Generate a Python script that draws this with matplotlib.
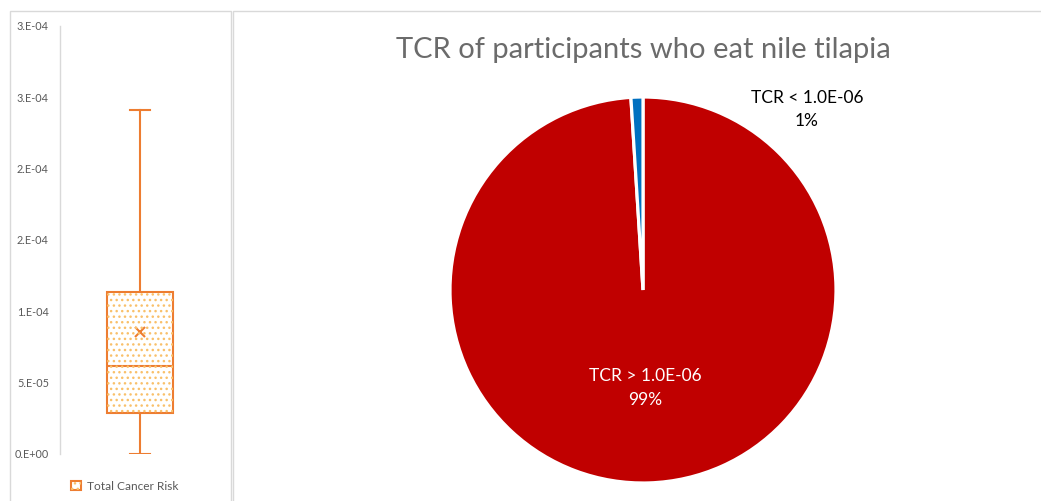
import matplotlib as mpl
mpl.use('Agg')
import matplotlib.pyplot as plt
from matplotlib.patches import Rectangle, PathPatch
from matplotlib.legend_handler import HandlerPatch

plt.rcParams['font.family'] = ['Lato', 'DejaVu Sans']

# total cancer risk distribution (box summary)
tcr_min = 0.0
tcr_q1 = 2.88e-5
tcr_median = 6.17e-5
tcr_q3 = 1.136e-4
tcr_max = 2.41e-4
tcr_mean = 8.56e-5

risk_ticks = [0.0, 5e-5, 1e-4, 1.5e-4, 2e-4, 2.5e-4, 3e-4]
risk_tick_labels = ['0.E+00', '5.E-05', '1.E-04', '2.E-04', '2.E-04', '3.E-04', '3.E-04']

# share of participants above / below the 1.0E-06 threshold
pie_labels = ['TCR > 1.0E-06', 'TCR < 1.0E-06']
pie_shares = [99, 1]
pie_colors = ['#C00000', '#0070C0']

ORANGE = '#ED7D31'
DOTS = '#F9C06A'
GREY = '#595959'
FRAME = '#D9D9D9'

W, H = 1041, 501
fig = plt.figure(figsize=(W / 100, H / 100), dpi=100)

def px(x0, y0, x1, y1):
    # pixel box (top-left origin) -> figure fraction rect
    return [x0 / W, 1 - y1 / H, (x1 - x0) / W, (y1 - y0) / H]

# panel outlines
fig.patches.append(Rectangle((10 / W, -0.1), 221 / W, 1.1 - 11 / H, transform=fig.transFigure,
                             fill=False, edgecolor=FRAME, lw=1.0))
fig.patches.append(Rectangle((233 / W, -0.1), 1.0, 1.1 - 11 / H, transform=fig.transFigure,
                             fill=False, edgecolor=FRAME, lw=1.0))

# ---- box plot ----
ax = fig.add_axes(px(60, 26, 220, 454))
stats = [dict(whislo=tcr_min, q1=tcr_q1, med=tcr_median, q3=tcr_q3, whishi=tcr_max,
              mean=tcr_mean, fliers=[], label='')]
bp = ax.bxp(stats, positions=[0.5], widths=0.41, patch_artist=True, showmeans=True,
            showfliers=False,
            boxprops=dict(facecolor='white', edgecolor=ORANGE, lw=1.5),
            medianprops=dict(color=ORANGE, lw=1.5),
            whiskerprops=dict(color=ORANGE, lw=1.5),
            capprops=dict(color=ORANGE, lw=1.5),
            capwidths=0.125,
            meanprops=dict(marker='x', markeredgecolor=ORANGE, markersize=7, mew=1.5))
box = bp['boxes'][0]
ax.add_patch(PathPatch(box.get_path(), facecolor='none', edgecolor=DOTS, hatch='...',
                       lw=0, zorder=box.get_zorder() + 0.1))
ax.set_xlim(0, 1)
ax.set_ylim(0, 3e-4)
ax.set_yticks(risk_ticks)
ax.set_yticklabels(risk_tick_labels, fontsize=7.8, color=GREY)
ax.set_xticks([])
ax.tick_params(axis='y', length=0, pad=8)
for s in ['top', 'right', 'bottom']:
    ax.spines[s].set_visible(False)
ax.spines['left'].set_color(FRAME)
ax.spines['left'].set_linewidth(1.0)
ax.patch.set_alpha(0)

legend_patch = Rectangle((0, 0), 1, 1, facecolor='white', edgecolor=ORANGE, lw=1.5)

class DottedBox(HandlerPatch):
    def create_artists(self, legend, orig_handle, xdescent, ydescent, width, height, fontsize, trans):
        side = height * 1.15
        x0 = -xdescent + width - side
        y0 = -ydescent + (height - side) / 2
        r = Rectangle((x0, y0), side, side, facecolor='white', edgecolor=ORANGE,
                      lw=1.5, transform=trans)
        d = Rectangle((x0, y0), side, side, facecolor='none', edgecolor=DOTS,
                      hatch='...', lw=0, transform=trans)
        return [r, d]

leg = fig.legend([legend_patch], ['Total Cancer Risk'], loc='center',
                 bbox_to_anchor=(124 / W, 1 - 486 / H), frameon=False, fontsize=8.6,
                 handler_map={Rectangle: DottedBox()}, handlelength=0.9, handletextpad=0.5)
for t in leg.get_texts():
    t.set_color(GREY)

# ---- pie ----
pax = fig.add_axes(px(450, 97, 836, 483))
wedges, _ = pax.pie(pie_shares, colors=pie_colors, startangle=90, counterclock=False,
                    radius=1.0, wedgeprops=dict(edgecolor='white', linewidth=2.3))
pax.set_xlim(-1, 1)
pax.set_ylim(-1, 1)
pax.set_aspect('equal')
pax.axis('off')

pax.text(0.01, -0.508, f'{pie_labels[0]}\n{pie_shares[0]}%', ha='center', va='center',
         color='white', fontsize=12.5, linespacing=1.55)
pax.text(0.85, 0.935, f'{pie_labels[1]}\n{pie_shares[1]}%', ha='center', va='center',
         color='black', fontsize=12.5, linespacing=1.55, clip_on=False)

fig.text(643 / W, 1 - 50 / H, 'TCR of participants who eat nile tilapia', ha='center',
         va='center', fontsize=21, color='#6B6B6B')

fig.savefig('out.png', dpi=100)
